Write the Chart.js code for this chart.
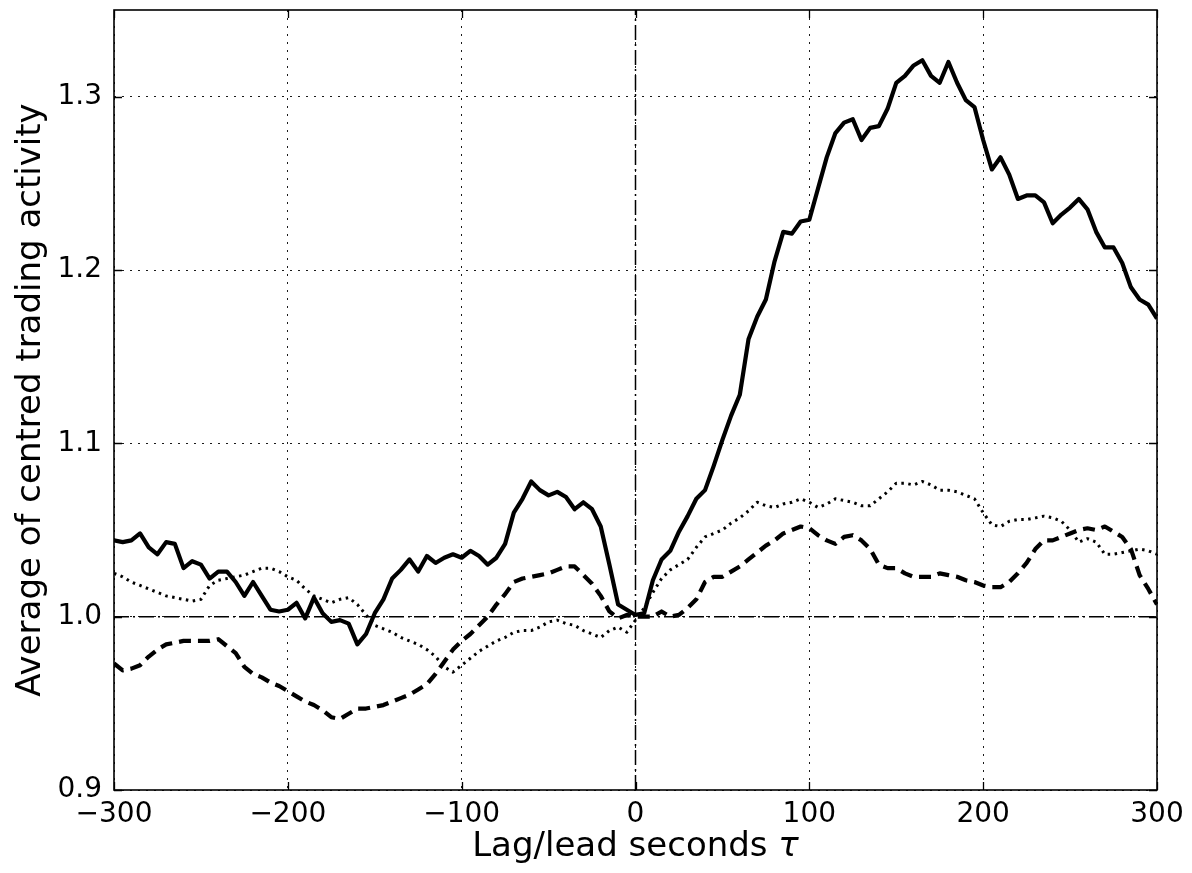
<!DOCTYPE html>
<html>
<head>
<meta charset="utf-8">
<script src="https://cdn.jsdelivr.net/npm/chart.js@4.4.1/dist/chart.umd.min.js"></script>
<style>
  html, body { margin: 0; padding: 0; background: #fff; }
  #wrap { width: 1192px; height: 873px; }
</style>
</head>
<body>
<div id="wrap"><canvas id="c" width="1192" height="873"></canvas></div>
<script>
// Lag/lead in seconds (x positions of every sample)
const lagSeconds = [
  -300, -295, -290, -285, -280, -275, -270, -265, -260, -255,
  -250, -245, -240, -235, -230, -225, -220, -215, -210, -205,
  -200, -195, -190, -185, -180, -175, -170, -165, -160, -155,
  -150, -145, -140, -135, -130, -125, -120, -115, -110, -105,
  -100, -95, -90, -85, -80, -75, -70, -65, -60, -55,
  -50, -45, -40, -35, -30, -25, -20, -15, -10, -5,
  0,
  5, 10, 15, 20, 25, 30, 35, 40, 45, 50,
  55, 60, 65, 70, 75, 80, 85, 90, 95, 100,
  105, 110, 115, 120, 125, 130, 135, 140, 145, 150,
  155, 160, 165, 170, 175, 180, 185, 190, 195, 200,
  205, 210, 215, 220, 225, 230, 235, 240, 245, 250,
  255, 260, 265, 270, 275, 280, 285, 290, 295, 300
];

// Solid series
const solidSeries = [
  1.044, 1.043, 1.044, 1.048, 1.040, 1.036, 1.043, 1.042, 1.028, 1.032,
  1.030, 1.022, 1.026, 1.026, 1.020, 1.012, 1.020, 1.012, 1.004, 1.003,
  1.004, 1.008, 0.999, 1.011, 1.002, 0.997, 0.998, 0.996, 0.984, 0.990,
  1.002, 1.010, 1.022, 1.027, 1.033, 1.026, 1.035, 1.031, 1.034, 1.036,
  1.034, 1.038, 1.035, 1.030, 1.034, 1.042, 1.060, 1.068, 1.078, 1.073,
  1.070, 1.072, 1.069, 1.062, 1.066, 1.062, 1.052, 1.030, 1.007, 1.004,
  1.001,
  1.002, 1.021, 1.033, 1.038, 1.049, 1.058, 1.068, 1.073, 1.087, 1.102,
  1.116, 1.128, 1.160, 1.173, 1.183, 1.205, 1.222, 1.221, 1.228, 1.229,
  1.247, 1.265, 1.279, 1.285, 1.287, 1.275, 1.282, 1.283, 1.293, 1.308,
  1.312, 1.318, 1.321, 1.312, 1.308, 1.320, 1.308, 1.298, 1.294, 1.275,
  1.258, 1.265, 1.255, 1.241, 1.243, 1.243, 1.239, 1.227, 1.232, 1.236,
  1.241, 1.235, 1.222, 1.213, 1.213, 1.204, 1.190, 1.183, 1.180, 1.172
];

// Dashed series
const dashedSeries = [
  0.973, 0.969, 0.970, 0.972, 0.977, 0.981, 0.984, 0.985, 0.986, 0.986,
  0.986, 0.986, 0.987, 0.983, 0.979, 0.971, 0.967, 0.965, 0.962, 0.960,
  0.957, 0.954, 0.951, 0.949, 0.946, 0.942, 0.941, 0.944, 0.947, 0.947,
  0.948, 0.949, 0.951, 0.953, 0.955, 0.958, 0.961, 0.967, 0.974, 0.981,
  0.986, 0.990, 0.995, 1.000, 1.007, 1.013, 1.020, 1.022, 1.023, 1.024,
  1.025, 1.027, 1.029, 1.029, 1.024, 1.019, 1.012, 1.003, 0.999, 1.001,
  1.000,
  1.000, 1.000, 1.003, 1.000, 1.001, 1.005, 1.010, 1.020, 1.023, 1.023,
  1.026, 1.029, 1.033, 1.037, 1.041, 1.044, 1.048, 1.050, 1.052, 1.051,
  1.047, 1.044, 1.042, 1.046, 1.047, 1.044, 1.039, 1.030, 1.028, 1.028,
  1.025, 1.023, 1.023, 1.023, 1.025, 1.024, 1.023, 1.021, 1.020, 1.018,
  1.017, 1.017, 1.020, 1.025, 1.031, 1.039, 1.044, 1.044, 1.046, 1.048,
  1.050, 1.051, 1.050, 1.052, 1.049, 1.046, 1.039, 1.024, 1.016, 1.007
];

// Dotted series
const dottedSeries = [
  1.025, 1.023, 1.020, 1.018, 1.016, 1.014, 1.012, 1.011, 1.010, 1.009,
  1.010, 1.018, 1.021, 1.022, 1.023, 1.024, 1.026, 1.028, 1.028, 1.026,
  1.023, 1.021, 1.016, 1.012, 1.010, 1.008, 1.010, 1.011, 1.007, 1.001,
  0.995, 0.993, 0.991, 0.988, 0.986, 0.984, 0.981, 0.977, 0.971, 0.968,
  0.972, 0.976, 0.980, 0.983, 0.986, 0.988, 0.991, 0.992, 0.992, 0.994,
  0.997, 0.998, 0.996, 0.995, 0.992, 0.990, 0.988, 0.992, 0.994, 0.991,
  0.998,
  1.005, 1.014, 1.022, 1.027, 1.030, 1.033, 1.040, 1.046, 1.048, 1.050,
  1.054, 1.057, 1.061, 1.066, 1.064, 1.063, 1.065, 1.066, 1.068, 1.066,
  1.063, 1.065, 1.068, 1.067, 1.066, 1.064, 1.064, 1.068, 1.072, 1.077,
  1.077, 1.076, 1.078, 1.076, 1.073, 1.073, 1.072, 1.070, 1.068, 1.060,
  1.053, 1.052, 1.055, 1.056, 1.056, 1.057, 1.058, 1.057, 1.055, 1.050,
  1.043, 1.045, 1.043, 1.036, 1.036, 1.037, 1.038, 1.039, 1.038, 1.036
];

// Axis ranges and tick labels
const xRange = [-300, 300];
const yRange = [0.9, 1.35];
const xTicks = [-300, -200, -100, 0, 100, 200, 300];
const yTicks = [0.9, 1.0, 1.1, 1.2, 1.3];
const baselineLevel = 1.0;
const centreLag = 0;
const xTitleText = 'Lag/lead seconds ';
const xTitleSymbol = '\u03C4';

const FONT = "'DejaVu Sans', 'Liberation Sans', sans-serif";
const toPoints = vals => lagSeconds.map((t, i) => ({ x: t, y: vals[i] }));
const fmtX = v => (v < 0 ? '\u2212' + Math.abs(v) : String(v));

// Inward tick marks on all four sides, the box frame, and the x title with an italic symbol
const frameAndTicks = {
  id: 'frameAndTicks',
  afterDatasetsDraw(chart) {
    const { ctx, chartArea: a, scales: { x, y } } = chart;
    const len = 8;
    ctx.save();
    ctx.strokeStyle = '#000';
    ctx.lineWidth = 1.3;
    ctx.beginPath();
    xTicks.forEach(v => {
      const px = Math.round(x.getPixelForValue(v)) + 0.5;
      ctx.moveTo(px, a.bottom); ctx.lineTo(px, a.bottom - len);
      ctx.moveTo(px, a.top); ctx.lineTo(px, a.top + len);
    });
    yTicks.forEach(v => {
      const py = Math.round(y.getPixelForValue(v)) + 0.5;
      ctx.moveTo(a.left, py); ctx.lineTo(a.left + len, py);
      ctx.moveTo(a.right, py); ctx.lineTo(a.right - len, py);
    });
    ctx.stroke();
    ctx.lineWidth = 1.6;
    ctx.strokeRect(a.left, a.top, a.right - a.left, a.bottom - a.top);

    // x-axis title: plain words followed by an oblique tau
    const upright = '34px ' + FONT;
    const slanted = 'oblique 34px ' + FONT;
    ctx.fillStyle = '#000';
    ctx.textBaseline = 'middle';
    ctx.textAlign = 'left';
    ctx.font = upright;
    const w1 = ctx.measureText(xTitleText).width;
    ctx.font = slanted;
    const w2 = ctx.measureText(xTitleSymbol).width;
    const cx = (a.left + a.right) / 2;
    const ty = chart.height - 25.4;
    const startX = cx - (w1 + w2) / 2;
    ctx.font = upright;
    ctx.fillText(xTitleText, startX, ty);
    ctx.font = slanted;
    ctx.fillText(xTitleSymbol, startX + w1, ty);
    ctx.restore();
  }
};

new Chart(document.getElementById('c'), {
  type: 'line',
  data: {
    datasets: [
      {
        data: [{ x: xRange[0], y: baselineLevel }, { x: xRange[1], y: baselineLevel }],
        borderColor: '#000', borderWidth: 1.5, borderDash: [15, 4, 2, 4]
      },
      {
        data: [{ x: centreLag, y: yRange[0] }, { x: centreLag, y: yRange[1] }],
        borderColor: '#000', borderWidth: 1.5, borderDash: [15, 4, 2, 4]
      },
      {
        data: toPoints(dottedSeries),
        borderColor: '#000', borderWidth: 3, borderDash: [2.5, 4.5]
      },
      {
        data: toPoints(dashedSeries),
        borderColor: '#000', borderWidth: 4.2, borderDash: [12, 7]
      },
      {
        data: toPoints(solidSeries),
        borderColor: '#000', borderWidth: 4.2
      }
    ]
  },
  options: {
    responsive: false,
    animation: false,
    devicePixelRatio: 1,
    layout: { padding: { top: 10, right: 35, bottom: 0, left: 0 } },
    elements: {
      point: { radius: 0, hoverRadius: 0 },
      line: { tension: 0, fill: false, borderCapStyle: 'butt', borderJoinStyle: 'round' }
    },
    plugins: { legend: { display: false }, tooltip: { enabled: false } },
    events: [],
    scales: {
      x: {
        type: 'linear',
        min: xRange[0], max: xRange[1],
        afterBuildTicks: s => { s.ticks = xTicks.map(v => ({ value: v })); },
        afterFit: s => { s.height = 83; s.paddingLeft = 0; s.paddingRight = 0; },
        grid: { color: '#000', lineWidth: 0.9, drawTicks: false },
        border: { display: false, dash: [2, 6] },
        ticks: {
          color: '#000', padding: 8, maxRotation: 0, autoSkip: false,
          font: { family: FONT, size: 28 },
          callback: v => fmtX(v)
        },
        title: { display: false }
      },
      y: {
        type: 'linear',
        min: yRange[0], max: yRange[1],
        afterBuildTicks: s => { s.ticks = yTicks.map(v => ({ value: v })); },
        afterFit: s => { s.width = 114; s.paddingTop = 0; s.paddingBottom = 0; },
        grid: { color: '#000', lineWidth: 0.9, drawTicks: false },
        border: { display: false, dash: [2, 6] },
        ticks: {
          color: '#000', padding: 12, autoSkip: false,
          font: { family: FONT, size: 28 },
          callback: v => v.toFixed(1)
        },
        title: {
          display: true, text: 'Average of centred trading activity', color: '#000',
          font: { family: FONT, size: 34 }, padding: { top: 11, bottom: 0 }
        }
      }
    }
  },
  plugins: [frameAndTicks]
});
</script>
</body>
</html>
